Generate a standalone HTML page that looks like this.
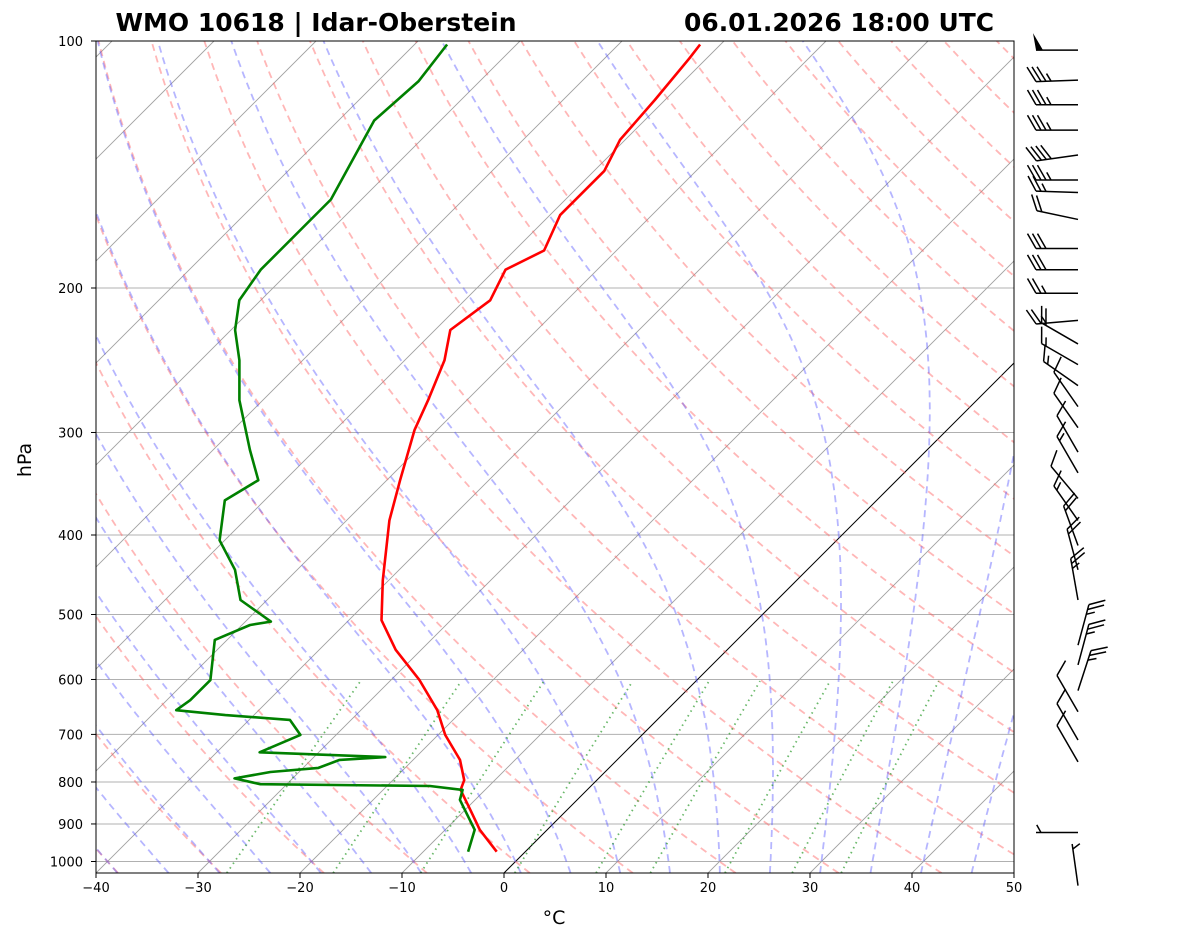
<!DOCTYPE html>
<html><head><meta charset="utf-8"><style>
html,body{margin:0;padding:0;background:#fff;}
svg{display:block;font-family:"DejaVu Sans","Liberation Sans",sans-serif;}
</style></head><body>
<svg id="chart" width="1181" height="941" viewBox="0 0 1181 941" xmlns="http://www.w3.org/2000/svg">
<defs><clipPath id="plotclip"><rect x="96" y="41" width="918" height="832"/></clipPath></defs>
<rect x="0" y="0" width="1181" height="941" fill="#fff"/>
<text x="316" y="31" font-size="24.5" font-weight="bold" text-anchor="middle" textLength="401" lengthAdjust="spacingAndGlyphs">WMO 10618 | Idar-Oberstein</text>
<text x="994" y="31" font-size="24.5" font-weight="bold" text-anchor="end" textLength="310" lengthAdjust="spacingAndGlyphs">06.01.2026 18:00 UTC</text>
<g id="bg" clip-path="url(#plotclip)"></g>
<g id="series" clip-path="url(#plotclip)"></g>
<rect x="96" y="41" width="918" height="832" fill="none" stroke="#000" stroke-width="1"/>
<g id="axes"></g>
<g id="barbs"></g>
<text x="554" y="924" font-size="19" text-anchor="middle">°C</text>
<text x="31" y="460" font-size="19" text-anchor="middle" transform="rotate(-90 31 460)">hPa</text>
</svg>
<script>
// ---- data ----
const tempP = [973,915,865,818,796,752,701,654,601,552,508,454,384,343,298,274,245,225,207,190,180,163,144,132,118,105,101];
const tempT = [-2.8,-6.6,-9.5,-12.4,-13.0,-15.4,-19.3,-22.5,-27.2,-32.5,-36.8,-40.6,-45.8,-48.7,-52.2,-53.8,-56.1,-58.5,-57.5,-59.0,-57.1,-59.0,-59.0,-60.5,-61.0,-61.7,-62.0];
const dewP = [973,915,841,818,809,805,792,778,769,752,746,736,701,672,663,654,636,601,537,515,510,480,441,406,363,343,315,274,245,225,207,190,156,125,112,101];
const dewT = [-5.6,-7.1,-11.5,-12.2,-15.8,-32.6,-35.7,-32.8,-28.5,-27.2,-23.0,-35.8,-33.5,-36.0,-42.8,-48.1,-47.7,-47.7,-51.2,-49.2,-47.5,-52.6,-56.1,-60.5,-63.9,-62.6,-66.4,-72.3,-76.2,-79.6,-82.1,-83.0,-83.0,-86.5,-86.0,-86.8];
const barbP = [102.6,111.6,119.6,128.4,137.7,147.7,153,165,179,190,203,219,234,248,263,279,296,317,336,361,384,412,441,480,545,576,619,657,711,756,922,1070];
const barbDir = [270,268,270,270,262,270,272,282,270,270,270,265,300,300,305,325,325,330,330,320,325,340,345,350,15,15,18,330,330,330,270,352];
const barbSpd = [50,35,35,35,40,35,25,20,30,30,25,25,20,15,15,10,10,10,15,10,15,20,20,25,25,25,25,10,10,10,5,5];
const xTicks = [-40,-30,-20,-10,0,10,20,30,40,50];
const yTicks = [100,200,300,400,500,600,700,800,900,1000];
const mixRatios = [0.0004,0.001,0.002,0.004,0.007,0.01,0.016,0.024,0.032];

// ---- axes functions ----
const X0=96, X1=1014, Y0=41, Y1=873, PX_PER_C=(X1-X0)/90, PX_PER_DEC=820.5;
const yOf = p => Y0 + PX_PER_DEC*Math.log10(p/100);
const xOf = (t,p) => X0 + (t+40)*PX_PER_C + (Y1 - yOf(p));
const pBottom = 100*Math.pow(10,(Y1-Y0)/PX_PER_DEC);
const NS='http://www.w3.org/2000/svg';
function mk(tag, attrs, parent){const e=document.createElementNS(NS,tag);for(const k in attrs)e.setAttribute(k,attrs[k]);parent.appendChild(e);return e;}
function pathFrom(pts){return pts.map((q,i)=>(i?'L':'M')+q[0].toFixed(1)+' '+q[1].toFixed(1)).join(' ');}
const bg=document.getElementById('bg'), series=document.getElementById('series'), axes=document.getElementById('axes'), barbs=document.getElementById('barbs');

yTicks.forEach(p=>{
  const l=mk('line',{x1:X0,x2:X1,y1:yOf(p),y2:yOf(p),stroke:'#b0b0b0','stroke-width':1},bg);
  
  
});
for(let t=-130;t<=50;t+=10){
  const l=mk('line',{x1:xOf(t,pBottom),y1:Y1,x2:xOf(t,100),y2:Y0,stroke:t===0?'#000':'#a0a0a0','stroke-width':t===0?1:0.9},bg);
  
  
}
const pLevels=[];for(let lp=Math.log(pBottom);lp>=Math.log(99);lp-=0.02)pLevels.push(Math.exp(lp));
for(let t0=-80;t0<=200;t0+=10){
  const th=t0+273.15;
  const pts=pLevels.map(p=>[xOf(th*Math.pow(p/1000,0.2857)-273.15,p),yOf(p)]);
  const e=mk('path',{d:pathFrom(pts),fill:'none',stroke:'#ff6060','stroke-width':1.8,'stroke-dasharray':'7 5','stroke-opacity':0.45},bg);
  
  
}
function esat(tc){return 6.112*Math.exp(17.67*tc/(tc+243.5));}
function dTdp(T,p){const tc=T-273.15;const es=esat(tc);const rs=0.622*es/Math.max(p-es,1e-3);
  return (287.04*T+2.501e6*rs)/(p*(1005.7+2.501e6*2.501e6*rs*0.622/(287.04*T*T)));}
function integ(T,p0,p1,n){const h=(p1-p0)/n;const out=[];let p=p0;for(let i=0;i<n;i++){
  const k1=dTdp(T,p),k2=dTdp(T+h*k1/2,p+h/2),k3=dTdp(T+h*k2/2,p+h/2),k4=dTdp(T+h*k3,p+h);
  T+=h*(k1+2*k2+2*k3+k4)/6;p+=h;out.push([p,T]);}return out;}
for(let t0=-40;t0<=45;t0+=5){
  const up=integ(t0+273.15,1000,100,180);
  const down=integ(t0+273.15,1000,pBottom,10).reverse();
  const all=down.concat([[1000,t0+273.15]],up);
  const pts=all.map(q=>[xOf(q[1]-273.15,q[0]),yOf(q[0])]);
  const e=mk('path',{d:pathFrom(pts),fill:'none',stroke:'#5050ff','stroke-width':1.8,'stroke-dasharray':'7 5','stroke-opacity':0.42},bg);
  
  
}
mixRatios.forEach(w=>{
  const pts=[];for(let p=pBottom;p>=600;p-=10){const e=w*p/(0.622+w);const l=Math.log(e/6.112);const td=243.5*l/(17.67-l);pts.push([xOf(td,p),yOf(p)]);}
  const e=mk('path',{d:pathFrom(pts),fill:'none',stroke:'#2a9a2a','stroke-width':1.8,'stroke-dasharray':'1.5 4','stroke-opacity':0.7},bg);
  
  
});
const tPath=mk('path',{d:pathFrom(tempP.map((p,i)=>[xOf(tempT[i],p),yOf(p)])),fill:'none',stroke:'#ff0000','stroke-width':2.6,'stroke-linejoin':'round'},series);


const dPath=mk('path',{d:pathFrom(dewP.map((p,i)=>[xOf(dewT[i],p),yOf(p)])),fill:'none',stroke:'#008000','stroke-width':2.6,'stroke-linejoin':'round'},series);



xTicks.forEach(t=>{
  const x=X0+(t+40)*PX_PER_C;
  const tk=mk('line',{x1:x,x2:x,y1:Y1,y2:Y1+5,stroke:'#000','stroke-width':1},axes);
  
  
  const tx=mk('text',{x:x,y:Y1+19,'font-size':13,'text-anchor':'middle'},axes);
  tx.textContent=(t<0?'\u2212'+(-t):String(t));
  
  
});
yTicks.forEach(p=>{
  const y=yOf(p);
  const tk=mk('line',{x1:X0-5,x2:X0,y1:y,y2:y,stroke:'#000','stroke-width':1},axes);
  
  
  const tx=mk('text',{x:X0-13,y:y+5,'font-size':13,'text-anchor':'end'},axes);
  tx.textContent=String(p);
  
  
});

const BX=1078, L=42;
barbP.forEach((p,i)=>{
  const y=yOf(p), a=barbDir[i]*Math.PI/180;
  const ux=Math.sin(a), uy=-Math.cos(a);
  const px=-uy, py=ux;
  const g=mk('g',{},barbs);
  
  
  const ex=BX+ux*L, ey=y+uy*L;
  mk('line',{x1:BX,y1:y,x2:ex,y2:ey,stroke:'#000','stroke-width':1.5},g);
  let s=Math.round(barbSpd[i]/5)*5, pos=0;
  const bl=17;
  while(s>=50){const ax=ex-ux*pos, ay=ey-uy*pos;
    mk('polygon',{points:`${ax},${ay} ${ax+px*bl+ux*3},${ay+py*bl+uy*3} ${ax-ux*7},${ay-uy*7}`,fill:'#000'},g);s-=50;pos+=9;}
  let first=pos===0;
  while(s>=10){const ax=ex-ux*pos, ay=ey-uy*pos;
    mk('line',{x1:ax,y1:ay,x2:ax+px*bl*0.87+ux*bl*0.5,y2:ay+py*bl*0.87+uy*bl*0.5,stroke:'#000','stroke-width':1.5},g);s-=10;pos+=5;first=false;}
  if(s>=5){if(first)pos=5;const ax=ex-ux*pos, ay=ey-uy*pos;
    mk('line',{x1:ax,y1:ay,x2:ax+px*bl*0.45+ux*bl*0.25,y2:ay+py*bl*0.45+uy*bl*0.25,stroke:'#000','stroke-width':1.5},g);}
});
</script>
</body></html>
